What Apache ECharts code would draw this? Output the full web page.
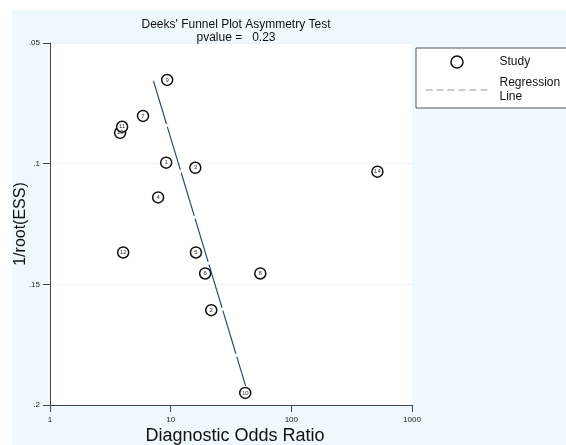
<!DOCTYPE html>
<html><head><meta charset="utf-8">
<script src="https://cdn.jsdelivr.net/npm/echarts@6/dist/echarts.min.js"></script>
<style>
html,body{margin:0;padding:0;background:#fff;}
#c{width:566px;height:445px;background:#fff linear-gradient(#eff8fc,#eff8fc) no-repeat 12px 10px / 554px 435px;}
</style></head>
<body><div id="c"></div>
<script>
// Study data
const studyIds = ['9','7','13','11','1','3','4','12','5','6','8','2','10','14'];
const studyDOR = [9.35, 5.9, 3.81, 3.96, 9.18, 16.0, 7.87, 4.04, 16.2, 19.3, 55.3, 21.7, 41.5, 517];
const studyInvRootESS = [0.0653, 0.0802, 0.0872, 0.0847, 0.0996, 0.1017, 0.114, 0.1368, 0.1368, 0.1455, 0.1455, 0.1607, 0.195, 0.1033];
// Regression line end points
const regDOR = [7.2, 41.8];
const regInvRootESS = [0.0657, 0.1921];
const yTicks = [0.05, 0.1, 0.15, 0.2];
const xTicks = [1, 10, 100, 1000];

const chart = echarts.init(document.getElementById('c'), null, {renderer:'canvas'});
const font = 'Arial, "Liberation Sans", sans-serif';
chart.setOption({
  animation:false,
  backgroundColor:'transparent',
  textStyle:{fontFamily:font},
  title:{
    text:"Deeks' Funnel Plot Asymmetry Test\npvalue =   0.23",
    left:231, top:13, textAlign:'center',
    textStyle:{fontSize:12, fontWeight:'normal', color:'#111', lineHeight:13, fontFamily:font}
  },
  grid:{left:50, right:154, top:43, bottom:40, show:true, backgroundColor:'#ffffff', borderWidth:0,
        containLabel:false, outerBoundsMode:'none'},
  legend:{
    orient:'vertical', left:416, top:48,
    padding:[7,60,4,9], itemGap:7,
    itemWidth:63, itemHeight:12,
    backgroundColor:'#ffffff', borderColor:'#555', borderWidth:1,
    textStyle:{fontSize:12, color:'#111', lineHeight:14, padding:[0,0,0,6], fontFamily:font},
    data:[
      {name:'Study', icon:'circle', itemStyle:{color:'#fff', borderColor:'#111', borderWidth:1.5}},
      {name:'Regression\nLine', itemStyle:{opacity:0, color:'transparent', borderWidth:0}, lineStyle:{color:'#8e9bb0', type:[7,4], width:1}}
    ]
  },
  xAxis:{
    type:'log', logBase:10, min:xTicks[0], max:xTicks[xTicks.length-1],
    name:'Diagnostic Odds Ratio', nameLocation:'middle', nameGap:22, nameMoveOverlap:false,
    nameTextStyle:{fontSize:18, color:'#111', fontFamily:font, padding:[0,0,0,8]},
    axisLine:{lineStyle:{color:'#444', width:1}},
    axisTick:{show:true, length:7, lineStyle:{color:'#444'}},
    minorTick:{show:false},
    axisLabel:{fontSize:8, color:'#222', margin:11, formatter:v => String(Math.round(v))},
    splitLine:{show:false}
  },
  yAxis:{
    type:'value', inverse:true, min:yTicks[0], max:yTicks[yTicks.length-1], interval:0.05,
    name:'1/root(ESS)', nameLocation:'middle', nameGap:21, nameMoveOverlap:false,
    nameTextStyle:{fontSize:16, color:'#111', fontFamily:font},
    axisLine:{show:true, lineStyle:{color:'#444', width:1}},
    axisTick:{show:true, length:7, lineStyle:{color:'#444'}},
    axisLabel:{fontSize:8, color:'#222', margin:10, formatter:v => String(+v.toFixed(2)).replace(/^0/, '')},
    splitLine:{show:true, lineStyle:{color:'#f2f2f2', width:1}}
  },
  series:[
    {
      name:'Study', type:'scatter', symbol:'circle', symbolSize:11,
      itemStyle:{color:'#fff', borderColor:'#111', borderWidth:1.5, opacity:1},
      label:{show:true, position:'inside', fontSize:6, color:'#333', formatter:p => p.data[2]},
      data: studyIds.map((id,i) => [studyDOR[i], studyInvRootESS[i], id]),
      z:3
    },
    {
      name:'Regression\nLine', type:'line', symbol:'none',
      lineStyle:{color:'#2c4a78', width:1.2, type:[45,3]},
      data: regDOR.map((x,i) => [x, regInvRootESS[i]]),
      z:2
    }
  ]
});
</script></body></html>
